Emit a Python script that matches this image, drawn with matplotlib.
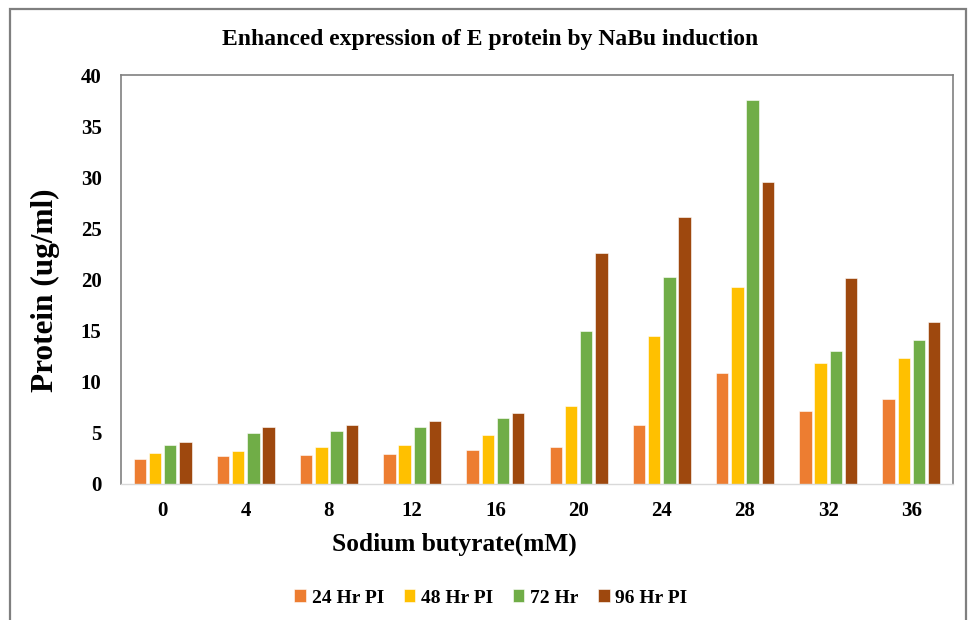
import matplotlib
matplotlib.use("Agg")
import matplotlib.pyplot as plt
import numpy as np
from matplotlib.patches import Rectangle

# data
concentrations = ["0", "4", "8", "12", "16", "20", "24", "28", "32", "36"]
series_names = ["24 Hr PI", "48 Hr PI", "72 Hr", "96 Hr PI"]
hr24 = [2.4, 2.7, 2.8, 2.9, 3.3, 3.6, 5.8, 10.9, 7.1, 8.3]
hr48 = [3.0, 3.2, 3.6, 3.8, 4.8, 7.6, 14.5, 19.3, 11.8, 12.3]
hr72 = [3.8, 5.0, 5.2, 5.6, 6.5, 15.0, 20.2, 37.6, 13.0, 14.1]
hr96 = [4.1, 5.6, 5.8, 6.2, 6.9, 22.6, 26.1, 29.5, 20.1, 15.8]
colors = ["#ED7D31", "#FFC000", "#70AD47", "#9E480E"]

plt.rcParams["font.family"] = ["Liberation Serif", "DejaVu Serif"]
plt.rcParams["font.weight"] = "bold"

fig = plt.figure(figsize=(9.68, 6.2), dpi=100)
ax = fig.add_axes([0.125, 0.2194, 0.8595, 0.6596])

# outer frame like the pasted Excel chart
fig.patches.append(Rectangle((10 / 968, -0.05), 956 / 968, 1.05 - 9 / 620,
                             transform=fig.transFigure, fill=False,
                             edgecolor="#7F7F7F", linewidth=1.6, zorder=0))

x = np.arange(len(concentrations))
width = 0.148
pitch = 0.183
for j, (vals, name) in enumerate(zip([hr24, hr48, hr72, hr96], series_names)):
    ax.bar(x + (j - 1.5) * pitch, vals, width, color=colors[j], label=name,
           edgecolor="white", linewidth=0.4)

ax.set_xlim(-0.5, len(concentrations) - 0.5)
ax.set_ylim(0, 40)
ax.set_yticks(range(0, 41, 5))
ax.set_xticks(x)
ax.set_xticklabels(concentrations)
ax.tick_params(axis="both", length=0, labelsize=15, pad=12)
ax.tick_params(axis="y", pad=14)
for lab in ax.get_xticklabels() + ax.get_yticklabels():
    lab.set_fontweight("bold")

for side in ["left", "top", "right"]:
    ax.spines[side].set_color("#808080")
    ax.spines[side].set_linewidth(1.2)
ax.spines["bottom"].set_color("#D9D9D9")
ax.spines["bottom"].set_linewidth(1.0)

ax.set_xlabel("Sodium butyrate(mM)", fontsize=18.3, fontweight="bold")
ax.xaxis.set_label_coords(0.401, -0.12)
ax.set_ylabel("Protein (ug/ml)", fontsize=22.5, fontweight="bold")
ax.yaxis.set_label_coords(-0.0735, 0.474)

fig.text(490 / 968, 1 - 40 / 620, "Enhanced expression of E protein by NaBu induction",
         ha="center", va="center", fontsize=17, fontweight="bold")

fig.legend(loc="center", bbox_to_anchor=(491 / 968, 1 - 598 / 620), ncol=4,
           frameon=False, handlelength=0.6, handleheight=0.65,
           handletextpad=0.3, columnspacing=1.0,
           prop={"weight": "bold", "size": 14})

fig.savefig("out.png", dpi=100)
